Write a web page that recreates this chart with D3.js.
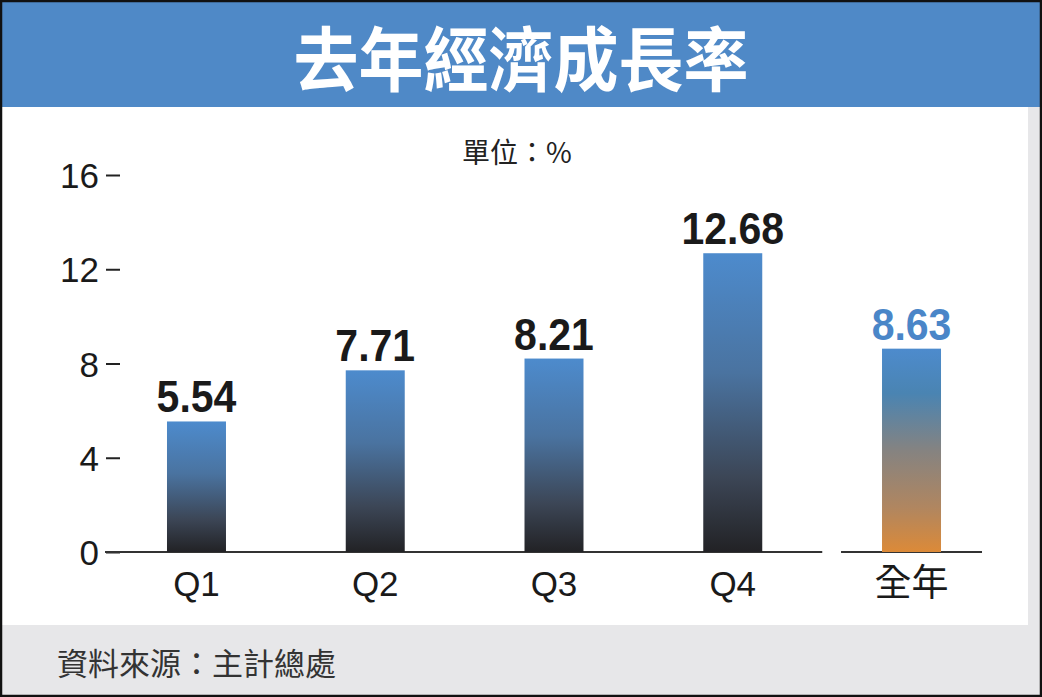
<!DOCTYPE html>
<html>
<head>
<meta charset="utf-8">
<script src="https://cdn.jsdelivr.net/npm/d3@7"></script>
<style>
  html, body { margin: 0; padding: 0; background: #fff; }
  svg { display: block; }
</style>
</head>
<body>
<svg id="chart"></svg>
<script>
// chart data
var quarters = ["Q1", "Q2", "Q3", "Q4"];
var quarterValues = [5.54, 7.71, 8.21, 12.68];
var yearLabel = "全年";
var yearValue = 8.63;
var yTicks = [0, 4, 8, 12, 16];

var width = 1042, height = 697;
var cjk = "'Noto Sans CJK TC', 'Noto Sans CJK SC', sans-serif";
var latin = "'Liberation Sans', Arial, sans-serif";

var svg = d3.select("#chart")
  .attr("width", width)
  .attr("height", height);

// gradients for the bars
var defs = svg.append("defs");
var gBlue = defs.append("linearGradient")
  .attr("id", "gradQ").attr("x1", 0).attr("y1", 0).attr("x2", 0).attr("y2", 1);
gBlue.append("stop").attr("offset", "0%").attr("stop-color", "#4d8bcd");
gBlue.append("stop").attr("offset", "40%").attr("stop-color", "#4a73a0");
gBlue.append("stop").attr("offset", "75%").attr("stop-color", "#3c4656");
gBlue.append("stop").attr("offset", "100%").attr("stop-color", "#222225");

var gYear = defs.append("linearGradient")
  .attr("id", "gradY").attr("x1", 0).attr("y1", 0).attr("x2", 0).attr("y2", 1);
gYear.append("stop").attr("offset", "0%").attr("stop-color", "#4d8bcd");
gYear.append("stop").attr("offset", "22%").attr("stop-color", "#4a84b2");
gYear.append("stop").attr("offset", "50%").attr("stop-color", "#858381");
gYear.append("stop").attr("offset", "78%").attr("stop-color", "#b08660");
gYear.append("stop").attr("offset", "100%").attr("stop-color", "#dc8a38");

// background frame
svg.append("rect")
  .attr("x", 1).attr("y", 1).attr("width", width - 2).attr("height", height - 2)
  .attr("fill", "#e7e7e9");
svg.append("rect")
  .attr("x", 2).attr("y", 107).attr("width", 1026).attr("height", 518)
  .attr("fill", "#ffffff");
svg.append("rect")
  .attr("x", 2).attr("y", 2).attr("width", width - 4).attr("height", 105)
  .attr("fill", "#4f89c7");
svg.append("rect")
  .attr("x", 1).attr("y", 1).attr("width", width - 2).attr("height", height - 2)
  .attr("fill", "none").attr("stroke", "#111").attr("stroke-width", 2.5);

// title (glyphs a bit taller than wide, like the original)
svg.append("text")
  .attr("transform", "translate(521,86) scale(1,1.08)")
  .attr("text-anchor", "middle")
  .style("font-family", cjk).style("font-weight", "bold")
  .style("font-size", "65px").style("fill", "#ffffff")
  .text("去年經濟成長率");

// unit
svg.append("text")
  .attr("x", 517).attr("y", 163)
  .attr("text-anchor", "middle")
  .style("font-family", cjk).style("font-size", "28px").style("fill", "#222")
  .text("單位：%");

// scales
var yScale = d3.scaleLinear().domain([0, 16]).range([552, 175]);
var xScale = d3.scaleBand()
  .domain(quarters.concat([yearLabel]))
  .range([108, 1000])
  .paddingInner(0.67)
  .paddingOuter(0.33);

// y axis
var yAxis = d3.axisLeft(yScale)
  .tickValues(yTicks)
  .tickSize(14)
  .tickPadding(7)
  .tickSizeOuter(0);

var yG = svg.append("g")
  .attr("transform", "translate(120,0)")
  .call(yAxis);
yG.select(".domain").remove();
yG.selectAll(".tick line").attr("stroke", "#222").attr("stroke-width", 2);
yG.selectAll(".tick text")
  .attr("dy", "0.36em")
  .style("font-family", latin).style("font-size", "35px").style("fill", "#1a1a1a");

// baselines
var bw = xScale.bandwidth();
svg.append("line")
  .attr("x1", 105).attr("x2", xScale("Q4") + bw + 60)
  .attr("y1", yScale(0)).attr("y2", yScale(0))
  .attr("stroke", "#333").attr("stroke-width", 2);
svg.append("line")
  .attr("x1", xScale(yearLabel) - 41).attr("x2", xScale(yearLabel) + bw + 41)
  .attr("y1", yScale(0)).attr("y2", yScale(0))
  .attr("stroke", "#333").attr("stroke-width", 2);

// bars
var bars = quarters.map(function(q, i) { return {label: q, value: quarterValues[i], year: false}; });
bars.push({label: yearLabel, value: yearValue, year: true});

svg.selectAll("rect.bar")
  .data(bars)
  .enter()
  .append("rect")
    .attr("class", "bar")
    .attr("x", d => xScale(d.label))
    .attr("y", d => yScale(d.value))
    .attr("width", bw)
    .attr("height", d => yScale(0) - yScale(d.value))
    .attr("fill", d => d.year ? "url(#gradY)" : "url(#gradQ)");

// value labels
svg.selectAll("text.val")
  .data(bars)
  .enter()
  .append("text")
    .attr("class", "val")
    .attr("transform", d => "translate(" + (xScale(d.label) + bw / 2) + "," + (yScale(d.value) - 9) + ") scale(1,1.1)")
    .attr("text-anchor", "middle")
    .style("font-family", latin).style("font-weight", "bold")
    .style("font-size", "41px")
    .style("fill", d => d.year ? "#4a86c8" : "#1a1a1a")
    .text(d => d.value.toFixed(2));

// x labels
svg.selectAll("text.xl")
  .data(bars)
  .enter()
  .append("text")
    .attr("class", "xl")
    .attr("x", d => xScale(d.label) + bw / 2)
    .attr("y", d => d.year ? 596 : 596)
    .attr("text-anchor", "middle")
    .style("font-family", d => d.year ? cjk : latin)
    .style("font-size", d => d.year ? "37px" : "35px")
    .style("fill", "#1a1a1a")
    .text(d => d.label);

// source
svg.append("text")
  .attr("x", 57).attr("y", 675)
  .style("font-family", cjk).style("font-size", "31px").style("fill", "#333")
  .text("資料來源：主計總處");
</script>
</body>
</html>
